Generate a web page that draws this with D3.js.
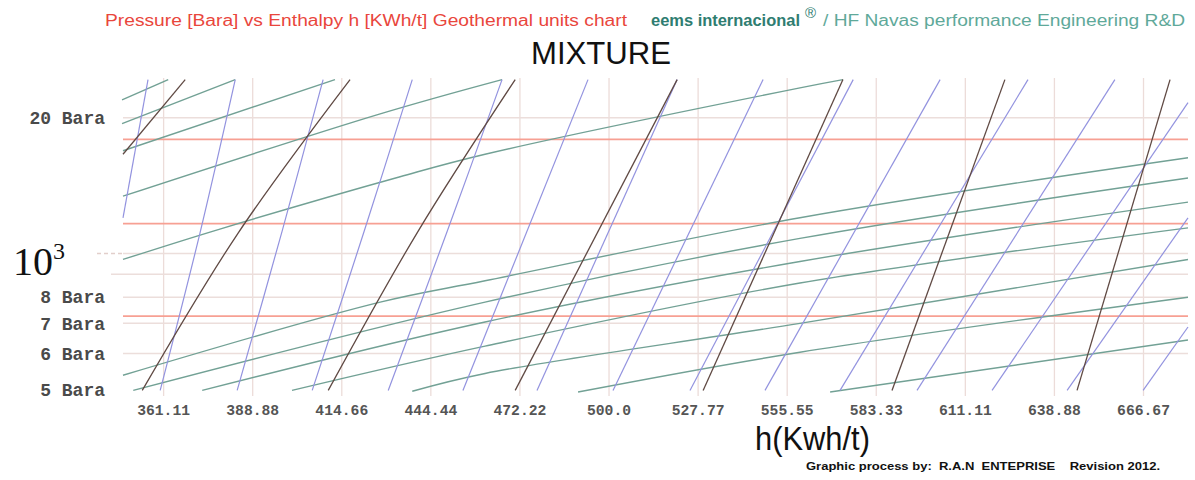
<!DOCTYPE html>
<html>

<head>
    <meta charset="utf-8">
    <style>
        body {
            margin: 0;
            background: white;
        }

        svg {
            display: block;
            font-family: 'Liberation Sans', Arial, sans-serif;
        }
    </style>
</head>

<body>
    <svg width="1195" height="480"></svg>
</body>

<script src="https://d3js.org/d3.v7.min.js"></script>

<script>
    // enthalpy ticks along the bottom (labels as printed on the original chart)
    let hTicks = [361.11, 388.89, 416.67, 444.44, 472.22, 500.0, 527.78, 555.56, 583.33, 611.11, 638.89, 666.67]
    let hTickLabels = ["361.11", "388.88", "414.66", "444.44", "472.22", "500.0", "527.77", "555.55", "583.33", "611.11", "638.88", "666.67"]

    // pressure axis (Bara)
    let pressureLabels = [20, 8, 7, 6, 5]
    let gridPressures = [20, 10, 9, 8, 7, 6]
    let redPressures = [17.9, 11.65, 7.26]

    // shallow green curves, [h, p] points
    let greenLines = [
        [[348.3, 21.9], [362.7, 24.3]],
        [[348.3, 19.4], [383.6, 24.3]],
        [[348.6, 16.9], [414.7, 24.3]],
        [[348.6, 13.4], [428.8, 20.4], [466.8, 24.3]],
        [[348.6, 9.7], [378.3, 11.3], [435.0, 14.8], [461.5, 16.6], [559.7, 23.3], [573.1, 24.3]],
        [[348.6, 5.37], [428.8, 7.8], [461.5, 8.7], [559.7, 12.0], [680.7, 16.3]],
        [[351.8, 4.97], [461.5, 7.8], [559.7, 10.8], [680.7, 14.7]],
        [[373.3, 4.97], [461.5, 7.05], [559.7, 9.6], [680.7, 13.0]],
        [[401.3, 4.97], [461.5, 6.23], [559.7, 8.6], [680.7, 11.4]],
        [[438.8, 4.95], [461.5, 5.42], [559.7, 7.0], [680.7, 9.7]],
        [[490.5, 4.93], [559.7, 6.04], [680.7, 8.0]],
        [[569.1, 4.93], [680.7, 6.43]]
    ]

    // steep blue lines
    let blueLines = [
        [[356.4, 24.3], [348.6, 12.0]],
        [[383.6, 24.3], [372.6, 11.1], [360.2, 4.97]],
        [[411.0, 24.3], [398.2, 11.2], [384.2, 4.97]],
        [[438.8, 24.3], [423.8, 11.2], [407.6, 4.97]],
        [[466.8, 24.3], [449.7, 11.2], [431.3, 4.97]],
        [[493.6, 24.3], [454.6, 4.97]],
        [[521.4, 24.3], [477.7, 4.97]],
        [[548.2, 24.3], [501.4, 4.97]],
        [[576.3, 24.3], [525.4, 4.97]],
        [[603.4, 24.3], [548.8, 4.97]],
        [[630.8, 24.3], [572.2, 4.97]],
        [[657.9, 24.3], [596.2, 4.97]],
        [[680.7, 21.6], [619.6, 4.97]],
        [[680.7, 12.0], [643.0, 4.97]],
        [[680.7, 6.87], [666.7, 4.97]]
    ]

    // steep dark brown lines
    let brownLines = [
        [[368.0, 24.3], [348.6, 16.6]],
        [[419.4, 24.3], [384.5, 11.1], [354.6, 4.97]],
        [[470.9, 24.3], [440.6, 11.2], [412.6, 4.97]],
        [[521.4, 24.3], [470.9, 4.97]],
        [[573.1, 24.3], [529.5, 4.97]],
        [[623.6, 24.3], [588.4, 4.97]],
        [[675.1, 24.3], [646.1, 4.97]]
    ]

    let plotLeft = 123, plotRight = 1188, plotTop = 78, plotBottom = 392

    let svg = d3.select("svg")

    let x = d3.scaleLinear()
        .domain([348.6, 680.7])
        .range([plotLeft, plotRight])

    let y = d3.scaleLog()
        .domain([4.93, 24.5])
        .range([plotBottom, plotTop])

    // vertical grid
    let vgrid = svg.append("g")
        .attr("transform", `translate(0,${plotBottom + 4})`)
        .call(d3.axisBottom(x).tickValues(hTicks).tickSize(-(plotBottom + 4 - plotTop)).tickFormat(""))
    vgrid.select(".domain").remove()
    vgrid.selectAll("line").attr("stroke", "#ecdcd9").attr("stroke-width", 1.3)

    // horizontal grid
    svg.append("g")
        .selectAll("line")
        .data(gridPressures)
        .join("line")
        .attr("x1", d => d == 9 ? plotLeft - 12 : plotLeft)
        .attr("x2", plotRight)
        .attr("y1", d => y(d))
        .attr("y2", d => y(d))
        .attr("stroke", "#ecdedb")
        .attr("stroke-width", 1.5)

    // dashed stub for the 10^3 level
    svg.append("line")
        .attr("x1", plotLeft - 26)
        .attr("x2", plotLeft)
        .attr("y1", y(10))
        .attr("y2", y(10))
        .attr("stroke", "#e2cfcb")
        .attr("stroke-width", 1.5)
        .attr("stroke-dasharray", "4,3")

    // red pressure lines
    svg.append("g")
        .selectAll("line")
        .data(redPressures)
        .join("line")
        .attr("x1", plotLeft)
        .attr("x2", plotRight)
        .attr("y1", d => y(d))
        .attr("y2", d => y(d))
        .attr("stroke", "#f7a093")
        .attr("stroke-width", 1.8)

    let line = d3.line()
        .x(d => x(d[0]))
        .y(d => y(d[1]))
        .curve(d3.curveCatmullRom)

    svg.append("g")
        .selectAll("path")
        .data(greenLines)
        .join("path")
        .attr("d", line)
        .attr("fill", "none")
        .attr("stroke", "#72a195")
        .attr("stroke-width", 1.4)

    svg.append("g")
        .selectAll("path")
        .data(blueLines)
        .join("path")
        .attr("d", line)
        .attr("fill", "none")
        .attr("stroke", "#9393df")
        .attr("stroke-width", 1.2)

    svg.append("g")
        .selectAll("path")
        .data(brownLines)
        .join("path")
        .attr("d", line)
        .attr("fill", "none")
        .attr("stroke", "#604a44")
        .attr("stroke-width", 1.3)

    // x tick labels
    let xAxis = svg.append("g")
        .attr("transform", `translate(0,${plotBottom})`)
        .call(d3.axisBottom(x).tickValues(hTicks).tickSize(0).tickPadding(13)
            .tickFormat((d, i) => hTickLabels[i]))
    xAxis.select(".domain").remove()
    xAxis.selectAll("text")
        .attr("font-family", "'Liberation Mono', 'Courier New', monospace")
        .attr("font-size", 14.7)
        .attr("font-weight", "bold")
        .attr("fill", "#555")

    // y labels
    let yAxis = svg.append("g")
        .attr("transform", `translate(${plotLeft},0)`)
        .call(d3.axisLeft(y).tickValues(pressureLabels).tickSize(0).tickPadding(18)
            .tickFormat(d => d + " Bara"))
    yAxis.select(".domain").remove()
    yAxis.selectAll("text")
        .attr("font-family", "'Liberation Mono', 'Courier New', monospace")
        .attr("font-size", 18)
        .attr("font-weight", "bold")
        .attr("fill", "#4a4a4a")

    // 10^3 label
    let pow = svg.append("text")
        .attr("x", 13)
        .attr("y", y(10) + 22)
        .attr("font-family", "'Liberation Serif', 'Times New Roman', serif")
        .attr("font-size", 40)
        .attr("fill", "#111")
        .text("10")
    pow.append("tspan")
        .attr("font-size", 24)
        .attr("dy", -16)
        .text("3")

    // headings
    svg.append("text")
        .attr("x", 105)
        .attr("y", 26)
        .attr("font-size", 16)
        .attr("fill", "#e9463c")
        .attr("textLength", 522)
        .attr("lengthAdjust", "spacingAndGlyphs")
        .text("Pressure [Bara] vs Enthalpy h [KWh/t] Geothermal units chart")

    svg.append("text")
        .attr("x", 651)
        .attr("y", 26)
        .attr("font-size", 16)
        .attr("font-weight", "bold")
        .attr("fill", "#2f7d71")
        .attr("textLength", 149)
        .attr("lengthAdjust", "spacingAndGlyphs")
        .text("eems internacional")

    svg.append("text")
        .attr("x", 805)
        .attr("y", 18)
        .attr("font-size", 15)
        .attr("fill", "#2f7d71")
        .text("®")

    svg.append("text")
        .attr("x", 823)
        .attr("y", 26)
        .attr("font-size", 16)
        .attr("fill", "#5fa99a")
        .attr("textLength", 362)
        .attr("lengthAdjust", "spacingAndGlyphs")
        .text("/ HF Navas performance Engineering R&D")

    svg.append("text")
        .attr("x", 531)
        .attr("y", 64)
        .attr("font-size", 31)
        .attr("fill", "#111")
        .attr("textLength", 140)
        .attr("lengthAdjust", "spacingAndGlyphs")
        .text("MIXTURE")

    svg.append("text")
        .attr("x", 755)
        .attr("y", 450)
        .attr("font-size", 33)
        .attr("fill", "#111")
        .attr("textLength", 115)
        .attr("lengthAdjust", "spacingAndGlyphs")
        .text("h(Kwh/t)")

    svg.append("text")
        .attr("x", 806)
        .attr("y", 470)
        .attr("font-size", 11)
        .attr("font-weight", "bold")
        .attr("fill", "#111")
        .attr("textLength", 354)
        .attr("lengthAdjust", "spacingAndGlyphs")
        .attr("xml:space", "preserve")
        .text("Graphic process by:  R.A.N  ENTEPRISE    Revision 2012.")

</script>

</html>
